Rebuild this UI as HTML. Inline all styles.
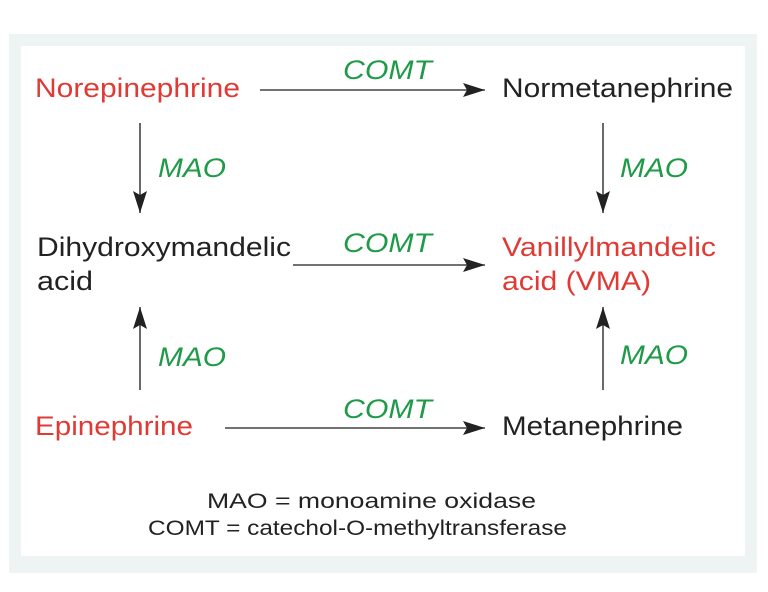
<!DOCTYPE html>
<html><head><meta charset="utf-8"><style>
html,body{margin:0;padding:0;background:#fff;}
svg{display:block;}
text{font-family:"Liberation Sans",Arial,sans-serif;}
.r{fill:#e03a35;font-size:27px;}
.k{fill:#222;font-size:27px;}
.g{fill:#1e9a48;font-size:27px;font-style:italic;}
.f{fill:#222;font-size:21px;}
</style></head><body>
<svg width="768" height="592" viewBox="0 0 768 592">
<rect x="9" y="34" width="748" height="539" fill="#eef4f4"/>
<rect x="21" y="46" width="724" height="510" fill="#fff"/>
<defs><marker id="a" markerWidth="22" markerHeight="14" refX="22" refY="7" orient="auto" markerUnits="userSpaceOnUse"><path d="M0,0 L22,7 L0,14 L4,7 Z" fill="#222"/></marker></defs>
<g stroke="#444" stroke-width="1.6" fill="none" marker-end="url(#a)">
<line x1="260" y1="90" x2="485" y2="90"/>
<line x1="293" y1="265" x2="485" y2="265"/>
<line x1="225" y1="428" x2="485" y2="428"/>
<line x1="140" y1="123" x2="140" y2="213"/>
<line x1="603" y1="123" x2="603" y2="213"/>
<line x1="140" y1="390" x2="140" y2="307"/>
<line x1="603" y1="390" x2="603" y2="307"/>
</g>
<text class="r" x="35" y="97" textLength="205" lengthAdjust="spacingAndGlyphs">Norepinephrine</text>
<text class="g" x="343" y="79" textLength="89" lengthAdjust="spacingAndGlyphs">COMT</text>
<text class="k" x="502" y="97" textLength="231" lengthAdjust="spacingAndGlyphs">Normetanephrine</text>
<text class="g" x="158" y="177" textLength="68" lengthAdjust="spacingAndGlyphs">MAO</text>
<text class="g" x="620" y="177" textLength="68" lengthAdjust="spacingAndGlyphs">MAO</text>
<text class="k" x="37" y="256" textLength="254" lengthAdjust="spacingAndGlyphs">Dihydroxymandelic</text>
<text class="k" x="37" y="290" textLength="56" lengthAdjust="spacingAndGlyphs">acid</text>
<text class="g" x="343" y="252" textLength="89" lengthAdjust="spacingAndGlyphs">COMT</text>
<text class="r" x="502" y="256" textLength="214" lengthAdjust="spacingAndGlyphs">Vanillylmandelic</text>
<text class="r" x="502" y="290" textLength="149" lengthAdjust="spacingAndGlyphs">acid (VMA)</text>
<text class="g" x="158" y="366" textLength="68" lengthAdjust="spacingAndGlyphs">MAO</text>
<text class="g" x="620" y="364" textLength="68" lengthAdjust="spacingAndGlyphs">MAO</text>
<text class="r" x="35" y="435" textLength="158" lengthAdjust="spacingAndGlyphs">Epinephrine</text>
<text class="g" x="343" y="418" textLength="89" lengthAdjust="spacingAndGlyphs">COMT</text>
<text class="k" x="502" y="435" textLength="181" lengthAdjust="spacingAndGlyphs">Metanephrine</text>
<text class="f" x="207" y="508" textLength="329" lengthAdjust="spacingAndGlyphs">MAO = monoamine oxidase</text>
<text class="f" x="148" y="535" textLength="419" lengthAdjust="spacingAndGlyphs">COMT = catechol-O-methyltransferase</text>
</svg>
</body></html>
